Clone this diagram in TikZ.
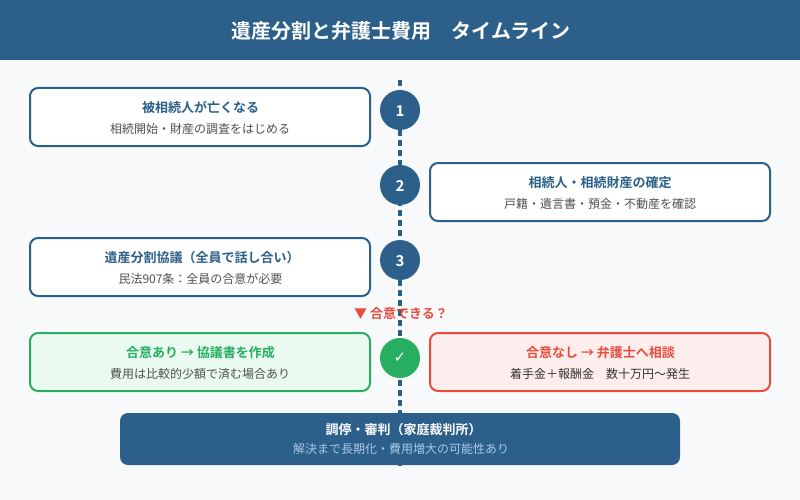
\documentclass[tikz,border=0pt]{standalone}
\usepackage{fontspec}
\setmainfont{Noto Sans CJK JP}[BoldFont={Noto Sans CJK JP Bold}]
\newfontfamily\symfont{DejaVu Sans}
\definecolor{navy}{HTML}{2C5F8A}
\definecolor{pagebg}{HTML}{F8F9FA}
\definecolor{okgreen}{HTML}{27AE60}
\definecolor{okfill}{HTML}{EAFAF1}
\definecolor{ngred}{HTML}{E74C3C}
\definecolor{ngfill}{HTML}{FDEDEC}
\definecolor{subgrey}{HTML}{505050}
\definecolor{subblue}{HTML}{A8C8E8}
\usetikzlibrary{positioning}
\begin{document}
\begin{tikzpicture}[x=1pt,y=-1pt]
	\tikzstyle{every node}+=[inner sep=0pt,outer sep=0pt]
	\tikzstyle{card}=[draw,line width=2pt,rounded corners=8pt,minimum width=340pt,minimum height=58pt]
	\tikzstyle{stepdot}=[circle,minimum size=40pt]
	\tikzstyle{stepnum}=[text=white,font=\fontsize{15}{15}\selectfont\bfseries]
	\tikzstyle{head}=[font=\fontsize{13}{13}\selectfont\bfseries]
	\tikzstyle{subtext}=[font=\fontsize{12}{12}\selectfont,text=subgrey]
	\fill [pagebg] (0,0) rectangle (800,500);
	\useasboundingbox (0,0) rectangle (800,500);
	\node (header) at (400,30) [fill=navy,minimum width=800pt,minimum height=60pt] {};
	\node (title) at (401,30.7) [text=white,font=\fontsize{20}{20}\selectfont\bfseries] {遺産分割と弁護士費用　タイムライン};
	% timeline
	\coordinate (top) at (400,80);
	\coordinate (bottom) at (400,466);
	\draw [navy,line width=3.4pt,dash pattern=on 6pt off 4pt] (top) -- (bottom);
	% left and right cards
	\node (death) at (200,117) [card,draw=navy,fill=white] {};
	\node at (200.5,107.7) [head,text=navy] {被相続人が亡くなる};
	\node at (200,129.4) [subtext] {相続開始・財産の調査をはじめる};
	\node (heirs) at (600,192) [card,draw=navy,fill=white] {};
	\node at (600,182.7) [head,text=navy] {相続人・相続財産の確定};
	\node at (600,204.4) [subtext] {戸籍・遺言書・預金・不動産を確認};
	\node (talks) at (200,267) [card,draw=navy,fill=white] {};
	\node at (202,257.7) [head,text=navy] {遺産分割協議（全員で話し合い）};
	\node at (200.5,279.4) [subtext] {民法907条：全員の合意が必要};
	\node (agree) at (200,362) [card,draw=okgreen,fill=okfill] {};
	\node at (200.5,352.7) [head,text=okgreen] {合意あり → 協議書を作成};
	\node at (200,374.4) [subtext] {費用は比較的少額で済む場合あり};
	\node (noagree) at (600,362) [card,draw=ngred,fill=ngfill] {};
	\node at (600.5,352.7) [head,text=ngred] {合意なし → 弁護士へ相談};
	\node at (600,374.4) [subtext,text=black!80] {着手金＋報酬金　数十万円〜発生};
	% circles
	\node (one) at (400,110) [stepdot,fill=navy] {};
	\node at (400,110.7) [stepnum] {1};
	\node (two) at (400,185) [stepdot,fill=navy] {};
	\node at (400,185.7) [stepnum] {2};
	\node (three) at (400,260) [stepdot,fill=navy] {};
	\node at (400,260.7) [stepnum] {3};
	\node (check) at (400,358) [stepdot,fill=okgreen] {};
	\node at (400,358) [text=white,font=\symfont\fontsize{15}{15}\selectfont] {✓};
	\node (ask) at (401,313.7) [text=ngred,font=\fontsize{13}{13}\selectfont\bfseries] {▼ 合意できる？};
	% court
	\node (court) at (400,439) [fill=navy,rounded corners=8pt,minimum width=560pt,minimum height=52pt] {};
	\node at (403.5,429.7) [head,text=white] {調停・審判（家庭裁判所）};
	\node at (401,449.4) [subtext,text=subblue] {解決まで長期化・費用増大の可能性あり};
\end{tikzpicture}
\end{document}
